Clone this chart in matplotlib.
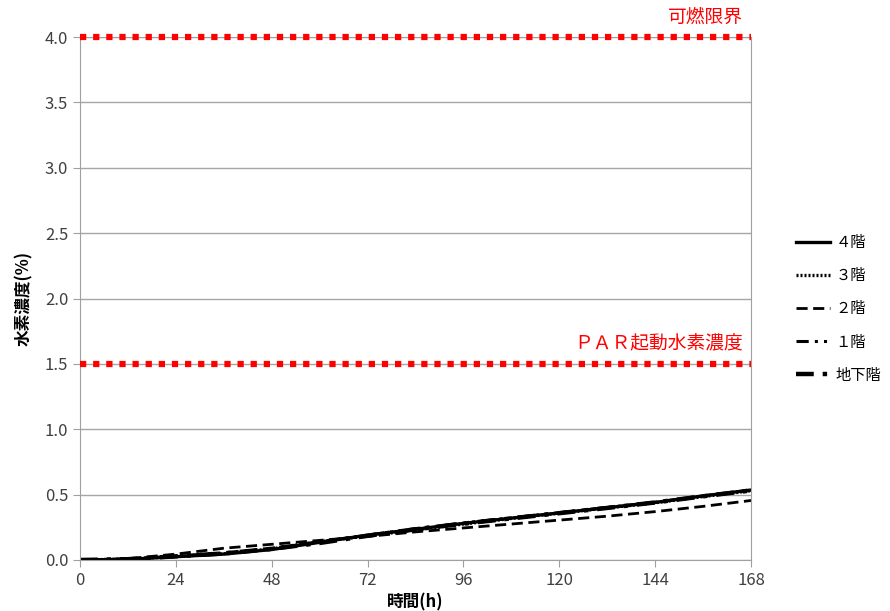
import matplotlib
matplotlib.use("Agg")
import matplotlib.pyplot as plt

plt.rcParams['font.family'] = ['Noto Sans CJK JP', 'DejaVu Sans']

hours = [0, 12, 24, 36, 48, 60, 72, 84, 96, 108, 120, 132, 144, 156, 168]

floor4 = [0.0, 0.005, 0.025, 0.045, 0.08, 0.135, 0.19, 0.235, 0.28, 0.32, 0.36, 0.40, 0.44, 0.49, 0.535]
floor3 = [0.0, 0.006, 0.027, 0.048, 0.085, 0.14, 0.185, 0.23, 0.275, 0.318, 0.358, 0.398, 0.438, 0.485, 0.53]
floor2 = [0.0, 0.01, 0.045, 0.09, 0.12, 0.15, 0.18, 0.215, 0.245, 0.275, 0.305, 0.335, 0.37, 0.41, 0.455]
floor1 = [0.0, 0.007, 0.03, 0.055, 0.09, 0.14, 0.19, 0.24, 0.283, 0.323, 0.362, 0.402, 0.442, 0.49, 0.535]
basement = [0.0, 0.006, 0.028, 0.05, 0.085, 0.13, 0.185, 0.235, 0.278, 0.318, 0.358, 0.398, 0.44, 0.487, 0.532]

limit_flammable = 4.0
limit_par = 1.5

yticks = [0.0, 0.5, 1.0, 1.5, 2.0, 2.5, 3.0, 3.5, 4.0]
xticks = [0, 24, 48, 72, 96, 120, 144, 168]

fig = plt.figure(figsize=(8.9, 6.11), dpi=100)
ax = fig.add_axes([0.0899, 0.0835, 0.7539, 0.8559])

ax.plot(hours, floor4, color='black', lw=2.4, ls='-', label='４階')
ax.plot(hours, floor3, color='black', lw=2.4, ls=(0, (0.6, 0.6)), label='３階')
ax.plot(hours, floor2, color='black', lw=2.0, ls=(0, (4, 2)), label='２階')
ax.plot(hours, floor1, color='black', lw=2.2, ls=(0, (4, 2, 1, 2, 1, 2)), label='１階')
ax.plot(hours, basement, color='black', lw=3.2, ls=(0, (4, 2, 1, 2)), label='地下階')

for lim in [limit_flammable, limit_par]:
    ax.plot([0, 168], [lim, lim], color='red', lw=4.5, ls=(0, (1, 1.1)),
            dash_capstyle='butt', zorder=5, clip_on=False)

ax.text(166, 4.07, '可燃限界', color='red', fontsize=13.5, ha='right', va='bottom')
ax.text(166, 1.57, 'ＰＡＲ起動水素濃度', color='red', fontsize=13.5, ha='right', va='bottom')

ax.set_xlim(0, 168)
ax.set_ylim(0, 4.0)
ax.set_xticks(xticks)
ax.set_yticks(yticks)
ax.set_yticklabels(['%.1f' % v for v in yticks])
ax.yaxis.grid(True, color='#a6a6a6', lw=1)
ax.set_axisbelow(True)
for s in ax.spines.values():
    s.set_color('#a0a0a0')
ax.tick_params(colors='#a0a0a0', labelcolor='#404040', labelsize=12, length=5)

ax.set_xlabel('時間(h)', fontsize=12, fontweight='bold', labelpad=3)
ax.set_ylabel('水素濃度(%)', fontsize=12, fontweight='bold', labelpad=8)

ax.legend(loc='center left', bbox_to_anchor=(1.067, 0.48), frameon=False,
          fontsize=11, handlelength=2.2, handletextpad=0.4, borderpad=0,
          borderaxespad=0, labelspacing=1.05)

plt.savefig('out.png', dpi=100)
